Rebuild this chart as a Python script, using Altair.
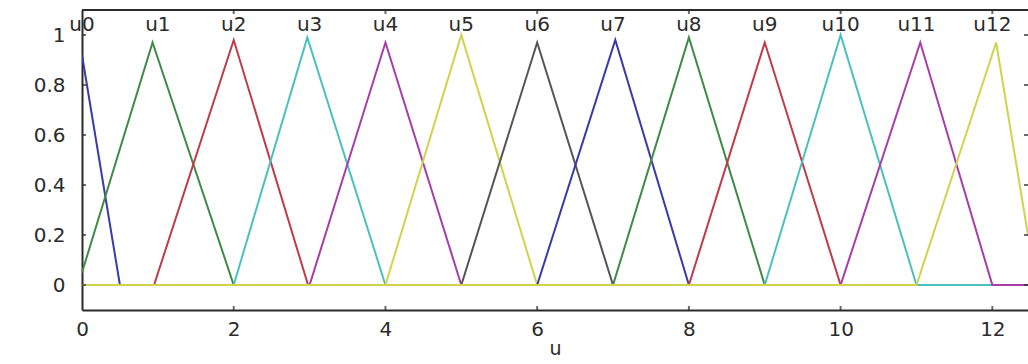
import altair as alt
import pandas as pd

# Membership functions u0..u12 over the universe u (breakpoints of each piecewise-linear curve)
X_END = 12.47
names = ["u0", "u1", "u2", "u3", "u4", "u5", "u6", "u7", "u8", "u9", "u10", "u11", "u12"]
xs = [
    [0.0, 0.5, X_END],
    [0.0, 0.93, 2.0, X_END],
    [0.0, 0.95, 2.0, 2.98, X_END],
    [0.0, 2.0, 2.97, 4.0, X_END],
    [0.0, 3.0, 4.0, 5.0, X_END],
    [0.0, 4.0, 5.0, 6.0, X_END],
    [0.0, 5.0, 6.0, 7.0, X_END],
    [0.0, 6.0, 7.03, 8.0, X_END],
    [0.0, 7.0, 8.0, 9.0, X_END],
    [0.0, 8.0, 9.0, 10.0, X_END],
    [0.0, 9.0, 10.0, 11.0, X_END],
    [0.0, 10.0, 11.05, 12.0, X_END],
    [0.0, 11.0, 12.05, X_END],
]
ys = [
    [0.92, 0.0, 0.0],
    [0.05, 0.97, 0.0, 0.0],
    [0.0, 0.0, 0.98, 0.0, 0.0],
    [0.0, 0.0, 0.99, 0.0, 0.0],
    [0.0, 0.0, 0.97, 0.0, 0.0],
    [0.0, 0.0, 1.0, 0.0, 0.0],
    [0.0, 0.0, 0.97, 0.0, 0.0],
    [0.0, 0.0, 0.98, 0.0, 0.0],
    [0.0, 0.0, 0.99, 0.0, 0.0],
    [0.0, 0.0, 0.97, 0.0, 0.0],
    [0.0, 0.0, 1.0, 0.0, 0.0],
    [0.0, 0.0, 0.97, 0.0, 0.0],
    [0.0, 0.0, 0.97, 0.2],
]
label_x = [0, 1, 2, 3, 4, 5, 6, 7, 8, 9, 10, 11, 12]
label_y = 1.04

colors = ["#3a3aa8", "#3f8a46", "#c03a4a", "#4cc0c0", "#a83ca8", "#d2d24c", "#555555"]

x_ticks = [0, 2, 4, 6, 8, 10, 12]
y_ticks = [0, 0.2, 0.4, 0.6, 0.8, 1.0]

FONT = "DejaVu Sans"
AX = "#2b2b2b"

x_scale = alt.Scale(domain=[0, X_END], nice=False, zero=False)
y_scale = alt.Scale(domain=[-0.1, 1.1], nice=False, zero=False)

x_axis = alt.Axis(values=x_ticks, title="u", grid=False, ticks=False, labelPadding=9,
                  titlePadding=0, domainColor=AX, domainWidth=2, labelFont=FONT,
                  labelFontSize=20, labelColor=AX, titleFont=FONT, titleFontSize=19,
                  titleFontWeight="normal", titleColor=AX, labelFlush=False, format="~g")
y_axis = alt.Axis(values=y_ticks, title=None, grid=False, ticks=False, labelPadding=17,
                  domainColor=AX, domainWidth=2, labelFont=FONT, labelFontSize=20,
                  labelColor=AX, format="~g", labelFlush=False)

layers = []
for i, name in enumerate(names):
    df = pd.DataFrame({"x": xs[i], "y": ys[i]})
    layers.append(
        alt.Chart(df).mark_line(color=colors[i % len(colors)], strokeWidth=2, clip=True).encode(
            x=alt.X("x:Q", scale=x_scale, axis=x_axis),
            y=alt.Y("y:Q", scale=y_scale, axis=y_axis),
        )
    )

labels_df = pd.DataFrame({"x": label_x, "name": names})
labels = alt.Chart(labels_df).mark_text(font=FONT, fontSize=20, color=AX, baseline="middle").encode(
    x=alt.X("x:Q", scale=x_scale),
    y=alt.datum(label_y),
    text="name:N",
)

# Frame: top edge plus inward tick marks on all four sides
top_edge = alt.Chart(pd.DataFrame({"y": [1.1]})).mark_rule(color=AX, strokeWidth=2).encode(
    y=alt.Y("y:Q", scale=y_scale)
)
xt = pd.DataFrame({"x": x_ticks})
yt = pd.DataFrame({"y": y_ticks})
bottom_ticks = alt.Chart(xt).mark_tick(orient="vertical", size=8, thickness=2, color=AX, clip=True).encode(
    x=alt.X("x:Q", scale=x_scale), y=alt.datum(-0.1)
)
top_ticks = alt.Chart(xt).mark_tick(orient="vertical", size=8, thickness=2, color=AX, clip=True).encode(
    x=alt.X("x:Q", scale=x_scale), y=alt.datum(1.1)
)
left_ticks = alt.Chart(yt).mark_tick(orient="horizontal", size=8, thickness=2, color=AX, clip=True).encode(
    y=alt.Y("y:Q", scale=y_scale), x=alt.datum(0)
)
right_ticks = alt.Chart(yt).mark_tick(orient="horizontal", size=8, thickness=2, color=AX, clip=True).encode(
    y=alt.Y("y:Q", scale=y_scale), x=alt.datum(X_END)
)

chart = alt.layer(
    *layers, labels, top_edge, bottom_ticks, top_ticks, left_ticks, right_ticks
).properties(
    width=946,
    height=300,
    autosize=alt.AutoSizeParams(type="none"),
    padding={"left": 82, "top": 10, "right": 0, "bottom": 54},
    background="white",
).configure_view(stroke=None)

chart.save("out.html", embed_options={"renderer": "svg", "actions": False})
